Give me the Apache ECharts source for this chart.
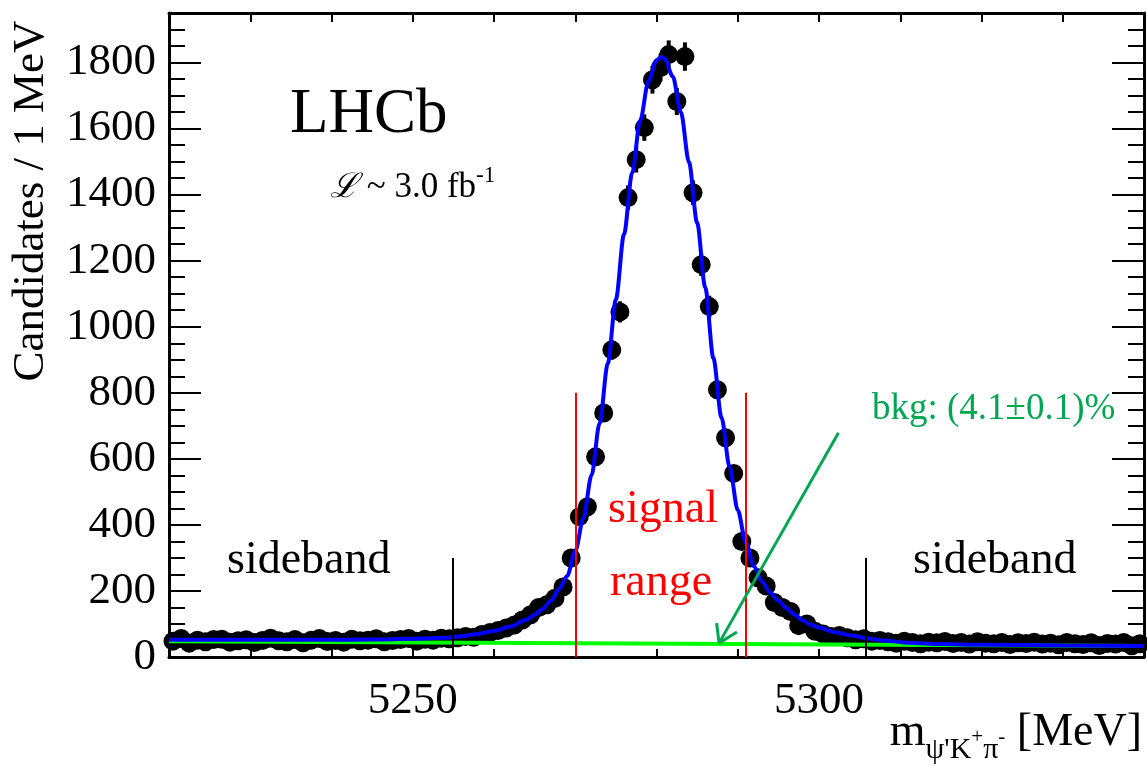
<!DOCTYPE html>
<html><head><meta charset="utf-8">
<script src="https://cdn.jsdelivr.net/npm/echarts@6/dist/echarts.min.js"></script>
<style>html,body{margin:0;padding:0;background:#fff}#c{width:1147px;height:766px}</style>
</head><body><div id="c"></div>
<script>
// ---- data ----
const massBins = [
 5220.5,5221.5,5222.5,5223.5,5224.5,5225.5,5226.5,5227.5,5228.5,5229.5,
 5230.5,5231.5,5232.5,5233.5,5234.5,5235.5,5236.5,5237.5,5238.5,5239.5,
 5240.5,5241.5,5242.5,5243.5,5244.5,5245.5,5246.5,5247.5,5248.5,5249.5,
 5250.5,5251.5,5252.5,5253.5,5254.5,5255.5,5256.5,5257.5,5258.5,5259.5,
 5260.5,5261.5,5262.5,5263.5,5264.5,5265.5,5266.5,5267.5,5268.5,5269.5,
 5270.5,5271.5,5272.5,5273.5,5274.5,5275.5,5276.5,5277.5,5278.5,5279.5,
 5280.5,5281.5,5282.5,5283.5,5284.5,5285.5,5286.5,5287.5,5288.5,5289.5,
 5290.5,5291.5,5292.5,5293.5,5294.5,5295.5,5296.5,5297.5,5298.5,5299.5,
 5300.5,5301.5,5302.5,5303.5,5304.5,5305.5,5306.5,5307.5,5308.5,5309.5,
 5310.5,5311.5,5312.5,5313.5,5314.5,5315.5,5316.5,5317.5,5318.5,5319.5,
 5320.5,5321.5,5322.5,5323.5,5324.5,5325.5,5326.5,5327.5,5328.5,5329.5,
 5330.5,5331.5,5332.5,5333.5,5334.5,5335.5,5336.5,5337.5,5338.5,5339.5
];
const counts = [
 48,56,42,51,46,53,54,45,49,52,
 44,50,57,49,46,53,43,51,56,47,
 50,45,54,49,51,55,46,50,53,56,
 48,54,51,57,55,58,62,60,68,74,
 80,88,97,112,128,150,158,178,212,300,
 425,455,606,739,930,1045,1391,1506,1603,1748,
 1785,1824,1682,1818,1406,1188,1061,809,664,556,
 350,300,240,215,165,150,138,95,100,78,
 70,62,65,58,52,55,48,50,46,42,
 48,44,40,45,43,47,41,44,39,46,
 42,40,44,38,43,41,45,39,42,37,
 44,40,38,43,35,41,39,44,34,40
];
const countErrors = [
 7,7,7,7,7,7,7,7,7,7,
 7,7,7,7,7,7,7,7,7,7,
 7,7,7,7,7,7,7,7,7,7,
 7,7,7,7,7,8,8,8,8,9,
 9,9,10,11,11,12,13,13,15,17,
 21,21,25,27,30,32,37,39,40,42,
 42,43,41,43,37,34,33,28,26,24,
 19,17,15,15,13,12,12,10,10,9,
 8,8,8,8,7,7,7,7,7,6,
 7,7,6,7,7,7,6,7,6,7,
 6,6,7,6,7,6,7,6,6,6,
 7,6,6,7,6,6,6,7,6,6
];
const fitMass = [5220,5230,5240,5245,5250,5254,5256,5258,5260,5262,5264,5265,5266,5267,5268,5269,5270,5271,5272,5273,5274,5275,5276,5277,5278,5279,5280,5280.6,5281,5282,5283,5284,5285,5286,5287,5288,5289,5290,5291,5292,5293,5294,5295,5296,5297,5298,5299,5300,5302,5304,5306,5308,5311,5315,5320,5330,5340];
const fitTotal = [52,52,52,53,55,58,63,70,79,92,113,128,145,170,205,245,320,420,550,708,888,1082,1280,1465,1625,1742,1807,1817,1812,1758,1650,1498,1315,1119,905,725,575,445,345,275,228,195,170,148,128,111,98,89,75,65,56,50,43,39,37,35,33];
const bkgMass = [5220, 5340];
const bkgValues = [48, 33];
const signalRange = [5270.0, 5291.0];
const signalLineTop = 800;
const sidebandEdges = [5254.9, 5305.7];
const sidebandLineTop = 300;
const arrowFrom = [5302.4, 679];
const arrowTip = [5287.7, 42];
const arrowArm1 = [5287.4, 103];
const arrowArm2 = [5289.9, 76];
const xTickLabels = [5250, 5300];
const yTickLabels = [0, 200, 400, 600, 800, 1000, 1200, 1400, 1600, 1800];

// ---- chart ----
const FONT = '"Liberation Serif", "Times New Roman", serif';
const GREEN_TXT = '#00a651';
const chart = echarts.init(document.getElementById('c'), null, {renderer: 'canvas'});

const axLine = {show: true, onZero: false, lineStyle: {color: '#000', width: 3}};
const xBase = {type: 'value', min: 5220, max: 5340, interval: 10, splitLine: {show: false}};
const yBase = {type: 'value', min: 0, max: 1950, splitLine: {show: false}};

const option = {
  animation: false,
  backgroundColor: '#fff',
  grid: {left: 169, right: 1, top: 13, bottom: 109, containLabel: false},
  xAxis: [
    Object.assign({}, xBase, {position: 'bottom', axisLine: axLine,
      axisTick: {show: true, inside: true, length: 8, lineStyle: {color: '#000', width: 2}},
      axisLabel: {show: true, margin: 22, color: '#000', fontFamily: FONT, fontSize: 45,
        formatter: v => xTickLabels.indexOf(v) >= 0 ? String(v) : ''}}),
    Object.assign({}, xBase, {position: 'top', axisLine: axLine,
      axisTick: {show: true, inside: true, length: 9, lineStyle: {color: '#000', width: 2}},
      axisLabel: {show: false}})
  ],
  yAxis: [
    Object.assign({}, yBase, {position: 'left', interval: 200, axisLine: axLine,
      axisTick: {show: true, inside: true, length: 32, lineStyle: {color: '#000', width: 2}},
      axisLabel: {show: true, margin: 13, color: '#000', fontFamily: FONT, fontSize: 45,
        formatter: v => yTickLabels.indexOf(v) >= 0 ? String(v) : ''}}),
    Object.assign({}, yBase, {position: 'left', interval: 50, axisLine: {show: false},
      axisTick: {show: true, inside: true, length: 16, lineStyle: {color: '#000', width: 2}},
      axisLabel: {show: false}}),
    Object.assign({}, yBase, {position: 'right', interval: 200, axisLine: axLine,
      axisTick: {show: true, inside: true, length: 32, lineStyle: {color: '#000', width: 2}},
      axisLabel: {show: false}}),
    Object.assign({}, yBase, {position: 'right', interval: 50, axisLine: {show: false},
      axisTick: {show: true, inside: true, length: 16, lineStyle: {color: '#000', width: 2}},
      axisLabel: {show: false}})
  ],
  series: [
    {
      name: 'data', type: 'scatter', xAxisIndex: 0, yAxisIndex: 0, z: 2,
      symbol: 'circle', symbolSize: 19,
      itemStyle: {color: '#000', opacity: 1},
      data: massBins.map((m, i) => [m, counts[i]])
    },
    {
      name: 'errors', type: 'custom', xAxisIndex: 0, yAxisIndex: 0, z: 2,
      data: massBins.map((m, i) => [m, counts[i], countErrors[i]]),
      renderItem: function (params, api) {
        const m = api.value(0), v = api.value(1), e = api.value(2);
        const p1 = api.coord([m, v - e]);
        const p2 = api.coord([m, v + e]);
        return {type: 'line', shape: {x1: p1[0], y1: p1[1], x2: p2[0], y2: p2[1]},
          style: {stroke: '#000', lineWidth: 4}};
      }
    },
    {
      name: 'background', type: 'line', xAxisIndex: 0, yAxisIndex: 0, z: 3,
      symbol: 'none', lineStyle: {color: '#00ff00', width: 4},
      data: bkgMass.map((m, i) => [m, bkgValues[i]]),
      markLine: {
        silent: true, symbol: ['none', 'none'], label: {show: false}, animation: false,
        data: [
          [{coord: [signalRange[0], 0], lineStyle: {color: '#ff0000', width: 2, type: 'solid'}}, {coord: [signalRange[0], signalLineTop]}],
          [{coord: [signalRange[1], 0], lineStyle: {color: '#ff0000', width: 2, type: 'solid'}}, {coord: [signalRange[1], signalLineTop]}],
          [{coord: [sidebandEdges[0], 0], lineStyle: {color: '#000', width: 2, type: 'solid'}}, {coord: [sidebandEdges[0], sidebandLineTop]}],
          [{coord: [sidebandEdges[1], 0], lineStyle: {color: '#000', width: 2, type: 'solid'}}, {coord: [sidebandEdges[1], sidebandLineTop]}],
          [{coord: arrowFrom, lineStyle: {color: GREEN_TXT, width: 3, type: 'solid'}}, {coord: arrowTip}],
          [{coord: arrowTip, lineStyle: {color: GREEN_TXT, width: 3, type: 'solid'}}, {coord: arrowArm1}],
          [{coord: arrowTip, lineStyle: {color: GREEN_TXT, width: 3, type: 'solid'}}, {coord: arrowArm2}]
        ]
      }
    },
    {
      name: 'fit', type: 'line', xAxisIndex: 0, yAxisIndex: 0, z: 4,
      symbol: 'none', smooth: 0.3, smoothMonotone: 'x',
      lineStyle: {color: '#0000ff', width: 4},
      data: fitMass.map((m, i) => [m, fitTotal[i]])
    }
  ],
  graphic: [
    {type: 'text', x: 31, y: 201, rotation: Math.PI / 2,
      style: {text: 'Candidates / 1 MeV', fontFamily: FONT, fontSize: 45, fill: '#000',
        textAlign: 'center', textVerticalAlign: 'middle'}},
    {type: 'text', x: 290, y: 115,
      style: {text: 'LHCb', fontFamily: FONT, fontSize: 63, fill: '#000',
        textAlign: 'left', textVerticalAlign: 'middle'}},
    {type: 'text', x: 330, y: 188,
      style: {text: '{L|ℒ} ~ 3.0 fb{s|-1}', fontFamily: FONT, fontSize: 35, fill: '#000',
        textAlign: 'left', textVerticalAlign: 'middle',
        rich: {L: {fontFamily: FONT, fontStyle: 'italic', fontSize: 34, lineHeight: 48},
               s: {fontFamily: FONT, fontSize: 23, verticalAlign: 'top', lineHeight: 46}}}},
    {type: 'text', x: 227, y: 561,
      style: {text: 'sideband', fontFamily: FONT, fontSize: 46, fill: '#000',
        textAlign: 'left', textVerticalAlign: 'middle'}},
    {type: 'text', x: 913, y: 561,
      style: {text: 'sideband', fontFamily: FONT, fontSize: 46, fill: '#000',
        textAlign: 'left', textVerticalAlign: 'middle'}},
    {type: 'text', x: 663, y: 510,
      style: {text: 'signal', fontFamily: FONT, fontSize: 46, fill: '#ff0000',
        textAlign: 'center', textVerticalAlign: 'middle'}},
    {type: 'text', x: 661, y: 583,
      style: {text: 'range', fontFamily: FONT, fontSize: 46, fill: '#ff0000',
        textAlign: 'center', textVerticalAlign: 'middle'}},
    {type: 'text', x: 872, y: 409,
      style: {text: 'bkg: (4.1±0.1)%', fontFamily: FONT, fontSize: 37, fill: GREEN_TXT,
        textAlign: 'left', textVerticalAlign: 'middle'}},
    {type: 'text', x: 1142, y: 733,
      style: {text: '{m|m}{sub|ψ\'K}{sup|+}{sub|π}{sup|-}{b| [MeV]}', fill: '#000',
        textAlign: 'right', textVerticalAlign: 'middle',
        rich: {
          m: {fontFamily: FONT, fontSize: 46, lineHeight: 64, verticalAlign: 'middle'},
          sub: {fontFamily: FONT, fontSize: 30, lineHeight: 30, verticalAlign: 'bottom'},
          sup: {fontFamily: FONT, fontSize: 21, lineHeight: 40, verticalAlign: 'bottom', padding: [0, 0, 17, 0]},
          b: {fontFamily: FONT, fontSize: 46, lineHeight: 64, verticalAlign: 'middle'}
        }}}
  ]
};
chart.setOption(option);
</script>
</body></html>
